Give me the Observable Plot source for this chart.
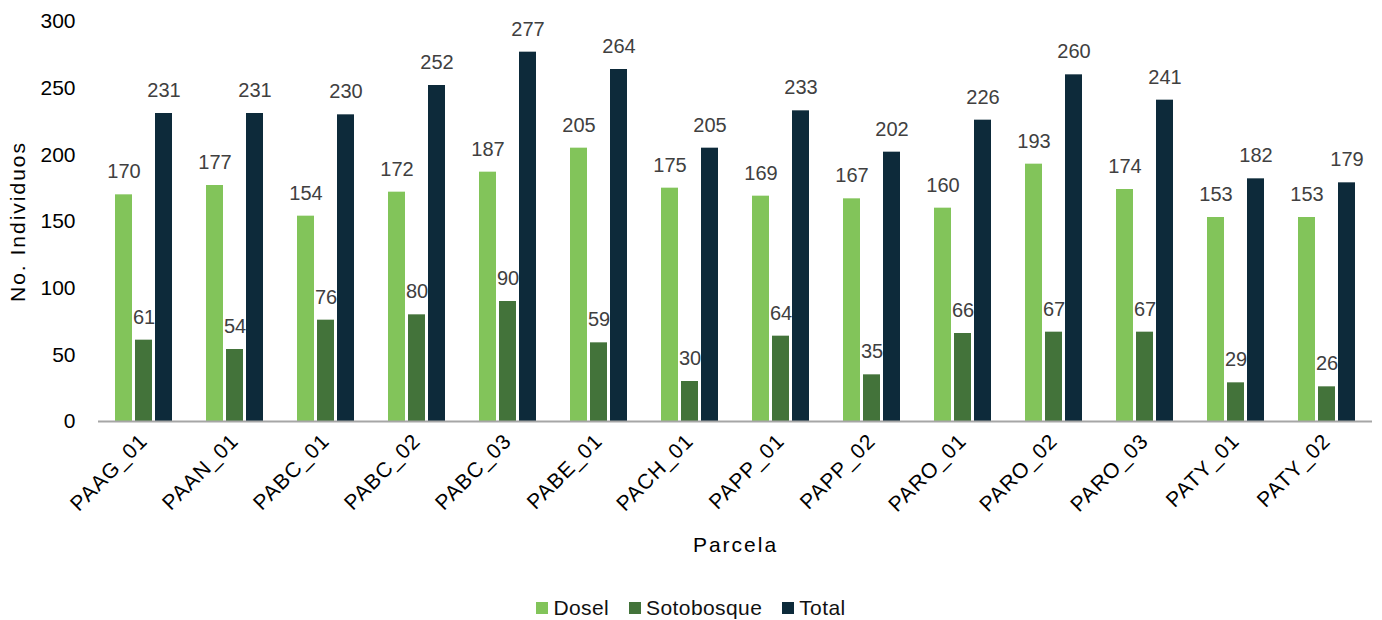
<!DOCTYPE html>
<html>
<head>
<meta charset="utf-8">
<script src="https://cdn.jsdelivr.net/npm/d3@7"></script>
<script src="https://cdn.jsdelivr.net/npm/@observablehq/plot@0.6"></script>
<style>
  body { margin: 0; background: #fff; font-family: "Liberation Sans", Arial, sans-serif; }
  #legend { display: flex; justify-content: center; align-items: center; height: 30px; margin-top: 3px; font-size: 21px; color: #111; letter-spacing: 0.4px; }
  #legend .item { display: flex; align-items: center; margin: 0 10px; }
  #legend .sw { width: 12px; height: 12px; margin-right: 5px; }
</style>
</head>
<body>
<div id="chart"></div>
<div id="legend"></div>
<script>
const parcelas = ["PAAG_01","PAAN_01","PABC_01","PABC_02","PABC_03","PABE_01","PACH_01","PAPP_01","PAPP_02","PARO_01","PARO_02","PARO_03","PATY_01","PATY_02"];
const dosel = [170,177,154,172,187,205,175,169,167,160,193,174,153,153];
const sotobosque = [61,54,76,80,90,59,30,64,35,66,67,67,29,26];
const total = [231,231,230,252,277,264,205,233,202,226,260,241,182,179];
const series = ["Dosel","Sotobosque","Total"];
const colors = ["#82C45A","#43733A","#0D2A3A"];
const yTicks = [0,50,100,150,200,250,300];

const values = [dosel, sotobosque, total];
const data = parcelas.flatMap((p, i) => series.map((s, j) => ({parcela: p, serie: s, value: values[j][i]})));

const chart = Plot.plot({
  width: 1382,
  height: 590,
  marginLeft: 95,
  marginRight: 7,
  marginTop: 21,
  marginBottom: 169,
  style: {fontFamily: "'Liberation Sans', Arial, sans-serif", fontSize: "21px", background: "#fff", color: "#000"},
  fx: {domain: parcelas, paddingInner: 0.37, paddingOuter: 0.185, axis: "bottom", label: "Parcela", labelAnchor: "center", labelOffset: 130, tickSize: 0, tickPadding: 16, tickRotate: -45},
  x: {domain: series, paddingInner: 0.17, paddingOuter: 0, axis: null},
  y: {domain: [0, 300], ticks: yTicks, tickSize: 0, tickPadding: 40, label: "No. Individuos", labelAnchor: "center", labelOffset: 105},
  color: {domain: series, range: colors},
  marks: [
    Plot.barY(data, {fx: "parcela", x: "serie", y: "value", fill: "serie"}),
    Plot.ruleY([0], {stroke: "#a6a6a6", strokeWidth: 2, insetLeft: -17, insetRight: -17}),
    Plot.text(data, {fx: "parcela", x: "serie", y: "value", text: d => String(d.value), dy: -23, fill: "#404040", fontSize: 20})
  ]
});
document.getElementById("chart").appendChild(chart);

d3.select(chart).selectAll("text").each(function() {
  const t = this.textContent;
  if (t.startsWith("Parcela") || t.startsWith("No. Individuos")) {
    const clean = t.startsWith("Parcela") ? "Parcela" : "No. Individuos";
    d3.select(this).text(clean).style("letter-spacing", "2px").style("font-size", "21px").attr("fill", "#000");
  } else if (parcelas.includes(t)) {
    d3.select(this).style("font-size", "21px").style("letter-spacing", "1px");
  }
});

const legend = d3.select("#legend");
series.forEach((s, i) => {
  const item = legend.append("div").attr("class", "item");
  item.append("div").attr("class", "sw").style("background", colors[i]);
  item.append("span").text(s);
});
</script>
</body>
</html>
